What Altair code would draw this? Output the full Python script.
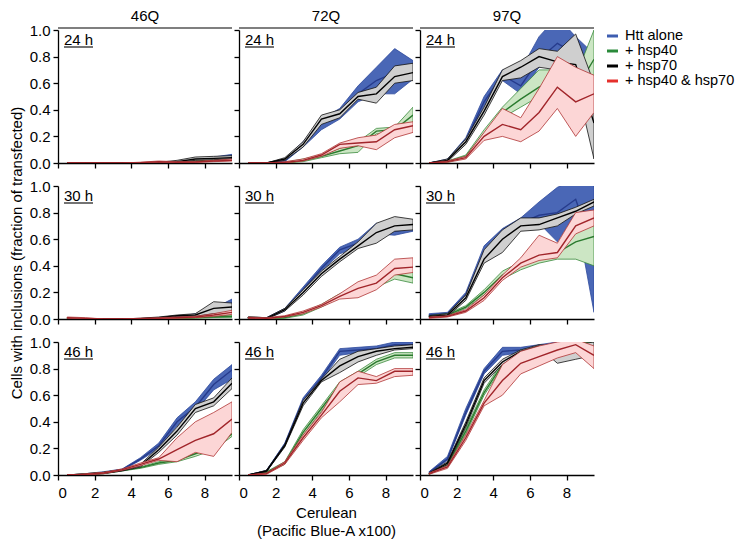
import altair as alt
import pandas as pd

FONT = "Liberation Sans"

X = [0.5, 1.5, 2.5, 3.5, 4.5, 5.5, 6.5, 7.5, 8.5, 9.5]
CONSTRUCTS = ["46Q", "72Q", "97Q"]
TIMES = ["24 h", "30 h", "46 h"]
SERIES = ["Htt alone", "+ hsp40", "+ hsp70", "+ hsp40 & hsp70"]
X_TICKS = [0, 2, 4, 6, 8]
Y_TICKS = [0.0, 0.2, 0.4, 0.6, 0.8, 1.0]
X_TITLE = ["Cerulean", "(Pacific Blue-A x100)"]
Y_TITLE = "Cells with inclusions (fraction of transfected)"

# each series: (mean, lower edge, upper edge)
# ---- 24 h, 46Q
t24_46Q_alone = ([0, 0, 0, 0, 0, 0, 0.005, 0.02, 0.03, 0.05],
                 [0, 0, 0, 0, 0, 0, 0, 0.01, 0.02, 0.035],
                 [0, 0, 0, 0, 0, 0.005, 0.01, 0.03, 0.045, 0.065])
t24_46Q_hsp40 = ([0, 0, 0, 0, 0, 0, 0.003, 0.01, 0.03, 0.04],
                 [0, 0, 0, 0, 0, 0, 0, 0.005, 0.02, 0.03],
                 [0, 0, 0, 0, 0, 0.003, 0.006, 0.02, 0.04, 0.05])
t24_46Q_hsp70 = ([0, 0, 0, 0, 0, 0.002, 0.01, 0.03, 0.035, 0.04],
                 [0, 0, 0, 0, 0, 0, 0.005, 0.02, 0.025, 0.03],
                 [0, 0, 0, 0, 0, 0.005, 0.02, 0.045, 0.05, 0.055])
t24_46Q_both = ([0, 0, 0, 0, 0.003, 0.01, 0.005, 0.008, 0.015, 0.02],
                [0, 0, 0, 0, 0, 0.005, 0, 0.004, 0.01, 0.015],
                [0, 0, 0, 0, 0.006, 0.015, 0.01, 0.012, 0.02, 0.03])
# ---- 24 h, 72Q
t24_72Q_alone = ([0, 0, 0.02, 0.14, 0.30, 0.38, 0.52, 0.62, 0.68, 0.70],
                 [0, 0, 0.01, 0.12, 0.25, 0.33, 0.46, 0.52, 0.52, 0.63],
                 [0, 0, 0.03, 0.16, 0.33, 0.41, 0.58, 0.72, 0.86, 0.77])
t24_72Q_hsp40 = ([0, 0, 0, 0.02, 0.05, 0.09, 0.13, 0.24, 0.25, 0.36],
                 [0, 0, 0, 0.01, 0.04, 0.07, 0.08, 0.22, 0.22, 0.31],
                 [0, 0, 0.005, 0.03, 0.06, 0.11, 0.16, 0.26, 0.27, 0.42])
t24_72Q_hsp70 = ([0, 0, 0.03, 0.14, 0.33, 0.37, 0.50, 0.52, 0.65, 0.68],
                 [0, 0, 0.02, 0.12, 0.29, 0.34, 0.48, 0.45, 0.60, 0.62],
                 [0, 0, 0.04, 0.16, 0.36, 0.40, 0.53, 0.57, 0.73, 0.75])
t24_72Q_both = ([0, 0, 0.005, 0.02, 0.06, 0.14, 0.15, 0.16, 0.25, 0.28],
                [0, 0, 0, 0.015, 0.05, 0.11, 0.13, 0.10, 0.19, 0.23],
                [0, 0, 0.01, 0.03, 0.07, 0.15, 0.19, 0.21, 0.29, 0.31])
# ---- 24 h, 97Q
t24_97Q_alone = ([0, 0.02, 0.17, 0.46, 0.66, 0.58, 0.78, 0.90, 0.82, 0.72],
                 [0, 0.015, 0.15, 0.43, 0.62, 0.52, 0.72, 0.80, 0.72, 0.60],
                 [0, 0.03, 0.19, 0.50, 0.70, 0.70, 0.95, 1.10, 0.95, 0.82])
t24_97Q_hsp40 = ([0, 0.01, 0.05, 0.22, 0.38, 0.48, 0.57, 0.62, 0.55, 0.78],
                 [0, 0.005, 0.04, 0.20, 0.34, 0.42, 0.50, 0.50, 0.33, 0.55],
                 [0, 0.015, 0.06, 0.25, 0.42, 0.56, 0.70, 0.70, 0.65, 1.0])
t24_97Q_hsp70 = ([0, 0.02, 0.16, 0.39, 0.65, 0.72, 0.80, 0.76, 0.74, 0.30],
                 [0, 0.01, 0.14, 0.36, 0.62, 0.64, 0.72, 0.70, 0.62, 0.03],
                 [0, 0.03, 0.18, 0.42, 0.70, 0.77, 0.86, 0.84, 0.97, 0.60])
t24_97Q_both = ([0, 0.01, 0.04, 0.20, 0.29, 0.25, 0.38, 0.57, 0.46, 0.52],
                [0, 0.005, 0.03, 0.17, 0.20, 0.16, 0.24, 0.41, 0.20, 0.38],
                [0, 0.015, 0.05, 0.23, 0.41, 0.34, 0.56, 0.80, 0.72, 0.66])
# ---- 30 h, 46Q
t30_46Q_alone = ([0, 0, 0, 0, 0, 0.003, 0.01, 0.03, 0.06, 0.12],
                 [0, 0, 0, 0, 0, 0, 0.005, 0.02, 0.04, 0.09],
                 [0, 0, 0, 0, 0, 0.006, 0.015, 0.04, 0.08, 0.15])
t30_46Q_hsp40 = ([0.005, 0, 0, 0, 0, 0.002, 0.005, 0.01, 0.015, 0.02],
                 [0, 0, 0, 0, 0, 0, 0, 0.005, 0.01, 0.01],
                 [0.01, 0, 0, 0, 0, 0.005, 0.01, 0.015, 0.02, 0.03])
t30_46Q_hsp70 = ([0, 0, 0, 0, 0.003, 0.01, 0.025, 0.03, 0.08, 0.09],
                 [0, 0, 0, 0, 0, 0.005, 0.02, 0.02, 0.04, 0.05],
                 [0, 0, 0, 0, 0.006, 0.015, 0.03, 0.04, 0.13, 0.12])
t30_46Q_both = ([0.01, 0.005, 0, 0, 0.003, 0.005, 0.01, 0.015, 0.03, 0.05],
                [0.005, 0, 0, 0, 0, 0, 0.005, 0.01, 0.02, 0.035],
                [0.015, 0.01, 0, 0, 0.006, 0.01, 0.015, 0.02, 0.04, 0.065])
# ---- 30 h, 72Q
t30_72Q_alone = ([0.01, 0.005, 0.07, 0.22, 0.38, 0.52, 0.57, 0.69, 0.66, 0.68],
                 [0.005, 0, 0.06, 0.20, 0.36, 0.49, 0.54, 0.64, 0.63, 0.66],
                 [0.015, 0.01, 0.08, 0.24, 0.40, 0.54, 0.60, 0.72, 0.69, 0.70])
t30_72Q_hsp40 = ([0.01, 0.005, 0.01, 0.04, 0.10, 0.17, 0.22, 0.27, 0.34, 0.31],
                 [0.005, 0, 0.005, 0.03, 0.09, 0.16, 0.20, 0.24, 0.30, 0.27],
                 [0.015, 0.01, 0.015, 0.05, 0.11, 0.19, 0.24, 0.30, 0.38, 0.36])
t30_72Q_hsp70 = ([0.01, 0.005, 0.07, 0.20, 0.34, 0.45, 0.55, 0.65, 0.70, 0.71],
                 [0.005, 0, 0.06, 0.18, 0.32, 0.43, 0.53, 0.57, 0.66, 0.67],
                 [0.015, 0.01, 0.08, 0.22, 0.36, 0.47, 0.58, 0.72, 0.77, 0.75])
t30_72Q_both = ([0.01, 0.005, 0.02, 0.05, 0.10, 0.17, 0.23, 0.27, 0.38, 0.39],
                [0.005, 0, 0.015, 0.04, 0.09, 0.15, 0.16, 0.22, 0.33, 0.35],
                [0.015, 0.01, 0.025, 0.06, 0.11, 0.19, 0.28, 0.33, 0.45, 0.46])
# ---- 30 h, 97Q
t30_97Q_alone = ([0.03, 0.04, 0.18, 0.50, 0.65, 0.72, 0.78, 0.80, 0.90, 0.50],
                 [0.02, 0.03, 0.16, 0.46, 0.62, 0.69, 0.72, 0.58, 0.80, 0.05],
                 [0.04, 0.05, 0.20, 0.55, 0.68, 0.76, 0.88, 0.99, 1.05, 1.0])
t30_97Q_hsp40 = ([0.02, 0.03, 0.09, 0.20, 0.33, 0.40, 0.46, 0.50, 0.58, 0.62],
                 [0.015, 0.02, 0.08, 0.18, 0.30, 0.37, 0.42, 0.45, 0.45, 0.40],
                 [0.025, 0.04, 0.10, 0.22, 0.36, 0.43, 0.50, 0.56, 0.70, 0.75])
t30_97Q_hsp70 = ([0.02, 0.03, 0.16, 0.45, 0.60, 0.70, 0.71, 0.76, 0.81, 0.88],
                 [0.015, 0.02, 0.14, 0.42, 0.50, 0.66, 0.67, 0.70, 0.79, 0.85],
                 [0.025, 0.04, 0.18, 0.52, 0.67, 0.76, 0.76, 0.79, 0.84, 0.90])
t30_97Q_both = ([0.01, 0.02, 0.06, 0.16, 0.31, 0.42, 0.48, 0.50, 0.70, 0.76],
                [0.005, 0.015, 0.05, 0.14, 0.29, 0.39, 0.44, 0.46, 0.64, 0.70],
                [0.015, 0.025, 0.07, 0.18, 0.33, 0.46, 0.63, 0.57, 0.80, 0.82])
# ---- 46 h, 46Q
t46_46Q_alone = ([0, 0.005, 0.02, 0.04, 0.12, 0.22, 0.40, 0.51, 0.68, 0.79],
                 [0, 0, 0.015, 0.035, 0.11, 0.20, 0.37, 0.48, 0.64, 0.72],
                 [0, 0.01, 0.025, 0.045, 0.13, 0.24, 0.43, 0.55, 0.72, 0.83])
t46_46Q_hsp40 = ([0, 0.005, 0.015, 0.035, 0.055, 0.09, 0.11, 0.16, 0.21, 0.31],
                 [0, 0, 0.01, 0.03, 0.05, 0.08, 0.10, 0.14, 0.19, 0.29],
                 [0, 0.01, 0.02, 0.04, 0.06, 0.10, 0.12, 0.18, 0.23, 0.33])
t46_46Q_hsp70 = ([0, 0.005, 0.015, 0.035, 0.07, 0.19, 0.33, 0.50, 0.55, 0.69],
                 [0, 0, 0.01, 0.03, 0.06, 0.17, 0.30, 0.47, 0.52, 0.65],
                 [0, 0.01, 0.02, 0.04, 0.08, 0.21, 0.36, 0.53, 0.58, 0.73])
t46_46Q_both = ([0, 0.005, 0.015, 0.04, 0.08, 0.12, 0.19, 0.26, 0.31, 0.42],
                [0, 0, 0.01, 0.035, 0.07, 0.11, 0.10, 0.17, 0.14, 0.32],
                [0, 0.01, 0.02, 0.045, 0.09, 0.13, 0.28, 0.40, 0.47, 0.55])
# ---- 46 h, 72Q
t46_72Q_alone = ([0, 0.03, 0.23, 0.56, 0.73, 0.93, 0.94, 0.95, 0.98, 0.98],
                 [0, 0.025, 0.22, 0.54, 0.71, 0.90, 0.92, 0.94, 0.96, 0.96],
                 [0, 0.035, 0.24, 0.58, 0.75, 0.95, 0.96, 0.97, 1.0, 1.0])
t46_72Q_hsp40 = ([0, 0.02, 0.09, 0.32, 0.50, 0.68, 0.76, 0.85, 0.90, 0.90],
                 [0, 0.015, 0.08, 0.30, 0.48, 0.66, 0.74, 0.83, 0.88, 0.88],
                 [0, 0.025, 0.10, 0.34, 0.52, 0.70, 0.78, 0.87, 0.92, 0.92])
t46_72Q_hsp70 = ([0, 0.03, 0.22, 0.54, 0.71, 0.82, 0.89, 0.93, 0.95, 0.96],
                 [0, 0.025, 0.21, 0.52, 0.70, 0.77, 0.85, 0.90, 0.94, 0.95],
                 [0, 0.035, 0.23, 0.56, 0.72, 0.87, 0.93, 0.95, 0.97, 0.98])
t46_72Q_both = ([0, 0.01, 0.09, 0.28, 0.45, 0.63, 0.73, 0.71, 0.78, 0.78],
                [0, 0.005, 0.08, 0.26, 0.43, 0.55, 0.68, 0.69, 0.74, 0.75],
                [0, 0.015, 0.10, 0.30, 0.47, 0.70, 0.78, 0.74, 0.80, 0.80])
# ---- 46 h, 97Q
t46_97Q_alone = ([0.02, 0.12, 0.47, 0.78, 0.93, 0.94, 0.96, 0.99, 1.0, 1.0],
                 [0.015, 0.11, 0.45, 0.76, 0.90, 0.92, 0.95, 0.98, 0.99, 0.99],
                 [0.025, 0.14, 0.50, 0.80, 0.96, 0.96, 0.98, 1.0, 1.0, 1.0])
t46_97Q_hsp40 = ([0.01, 0.08, 0.33, 0.62, 0.83, 0.92, 0.95, 0.98, 1.0, 1.0],
                 [0.005, 0.07, 0.31, 0.60, 0.81, 0.90, 0.94, 0.97, 0.99, 0.99],
                 [0.015, 0.09, 0.35, 0.64, 0.85, 0.94, 0.96, 0.99, 1.0, 1.0])
t46_97Q_hsp70 = ([0.01, 0.09, 0.38, 0.71, 0.85, 0.93, 0.97, 0.92, 0.93, 0.95],
                 [0.005, 0.08, 0.36, 0.69, 0.83, 0.92, 0.96, 0.84, 0.87, 0.90],
                 [0.015, 0.10, 0.40, 0.73, 0.87, 0.94, 0.98, 0.97, 0.98, 1.0])
t46_97Q_both = ([0.01, 0.06, 0.28, 0.54, 0.71, 0.84, 0.89, 0.94, 0.98, 0.90],
                [0.005, 0.05, 0.26, 0.52, 0.60, 0.76, 0.82, 0.88, 0.92, 0.80],
                [0.015, 0.07, 0.30, 0.56, 0.83, 0.93, 0.97, 1.0, 1.02, 0.97])

PANELS = {
    ("24 h", "46Q"): [t24_46Q_alone, t24_46Q_hsp40, t24_46Q_hsp70, t24_46Q_both],
    ("24 h", "72Q"): [t24_72Q_alone, t24_72Q_hsp40, t24_72Q_hsp70, t24_72Q_both],
    ("24 h", "97Q"): [t24_97Q_alone, t24_97Q_hsp40, t24_97Q_hsp70, t24_97Q_both],
    ("30 h", "46Q"): [t30_46Q_alone, t30_46Q_hsp40, t30_46Q_hsp70, t30_46Q_both],
    ("30 h", "72Q"): [t30_72Q_alone, t30_72Q_hsp40, t30_72Q_hsp70, t30_72Q_both],
    ("30 h", "97Q"): [t30_97Q_alone, t30_97Q_hsp40, t30_97Q_hsp70, t30_97Q_both],
    ("46 h", "46Q"): [t46_46Q_alone, t46_46Q_hsp40, t46_46Q_hsp70, t46_46Q_both],
    ("46 h", "72Q"): [t46_72Q_alone, t46_72Q_hsp40, t46_72Q_hsp70, t46_72Q_both],
    ("46 h", "97Q"): [t46_97Q_alone, t46_97Q_hsp40, t46_97Q_hsp70, t46_97Q_both],
}

records = []
for (t, c), series_list in PANELS.items():
    for s, (m, lo, hi) in zip(SERIES, series_list):
        for xi, a, b, d in zip(X, m, lo, hi):
            records.append({"time": t, "construct": c, "series": s,
                            "x": xi, "mean": a, "lo": b, "hi": d})
df = pd.DataFrame(records)

# styles
FILL = dict(zip(SERIES, ["#4a67b6", "#cce6c4", "#cfcfcf", "#fcd6d6"]))
EDGE = dict(zip(SERIES, ["#2e4a9c", "#3a8a3c", "#111111", "#b03535"]))
LINE = dict(zip(SERIES, ["#263b8c", "#2a7a2e", "#000000", "#a1252a"]))
LEG = dict(zip(SERIES, ["#3d5db0", "#2a8a3a", "#000000", "#e5302c"]))

W, H = 174, 133


def panel(t, c, row, col):
    sub = df[(df["time"] == t) & (df["construct"] == c)]
    xs = alt.Scale(domain=[0, 9.5], nice=False, zero=False)
    ys = alt.Scale(domain=[0, 1], nice=False, zero=False)
    xax = alt.Axis(values=X_TICKS, labels=(row == 2), labelPadding=5,
                   title=(X_TITLE if (row == 2 and col == 1) else None),
                   titlePadding=5, titleLineHeight=18)
    yax = alt.Axis(values=Y_TICKS, format=".1f", labels=(col == 0),
                   labelPadding=3,
                   title=(Y_TITLE if (row == 1 and col == 0) else None),
                   titlePadding=5)
    layers = []
    for s in SERIES:
        d = sub[sub["series"] == s]
        base = alt.Chart(d)
        layers.append(base.mark_area(clip=True, fill=FILL[s], fillOpacity=1,
                                     stroke=EDGE[s], strokeWidth=0.8).encode(
            x=alt.X("x:Q", scale=xs, axis=xax),
            y=alt.Y("lo:Q", scale=ys, axis=yax),
            y2="hi:Q"))
        layers.append(base.mark_line(clip=True, color=LINE[s], strokeWidth=1.4).encode(
            x=alt.X("x:Q", scale=xs, axis=xax),
            y=alt.Y("mean:Q", scale=ys, axis=yax)))
    lab = pd.DataFrame({"label": [t]})
    layers.append(alt.Chart(lab).mark_text(align="left", baseline="top", fontSize=15,
                                           font=FONT, color="black").encode(
        text="label:N", x=alt.value(6), y=alt.value(3)))
    layers.append(alt.Chart(lab).mark_rule(color="black", strokeWidth=1.1).encode(
        x=alt.value(6), x2=alt.value(35), y=alt.value(17)))
    if row == 0:
        hd = pd.DataFrame({"label": [c]})
        layers.append(alt.Chart(hd).mark_text(align="center", baseline="bottom", fontSize=15,
                                              font=FONT, color="black").encode(
            text="label:N", x=alt.value(W / 2), y=alt.value(-6)))
        layers.append(alt.Chart(hd).mark_rule(color="black", strokeWidth=1.1).encode(
            x=alt.value(0), x2=alt.value(W), y=alt.value(-2)))
    if row == 0 and col == 2:
        for i, s in enumerate(SERIES):
            ld = pd.DataFrame({"label": [s]})
            layers.append(alt.Chart(ld).mark_rule(color=LEG[s], strokeWidth=3).encode(
                x=alt.value(W + 13), x2=alt.value(W + 24), y=alt.value(6 + 15 * i)))
            layers.append(alt.Chart(ld).mark_text(align="left", baseline="middle", fontSize=14.5,
                                                  font=FONT, color="black").encode(
                text="label:N", x=alt.value(W + 31), y=alt.value(6 + 15 * i)))
    return alt.layer(*layers).properties(width=W, height=H)


charts = []
for r, t in enumerate(TIMES):
    for ci, c in enumerate(CONSTRUCTS):
        charts.append(panel(t, c, r, ci))

chart = alt.concat(*charts, columns=3, bounds="flush",
                   spacing=alt.RowColnumber(row=23, column=7)).properties(padding=0)

chart = chart.configure_view(stroke="transparent").configure_axis(
    grid=False, domainColor="black", tickColor="black", labelColor="black",
    titleColor="black", labelFont=FONT, titleFont=FONT, labelFontSize=15,
    titleFontSize=15, titleFontWeight="normal", tickSize=5, domainWidth=1.3,
    tickWidth=1.3)

chart.save("out.html", embed_options={"renderer": "svg", "actions": False})
